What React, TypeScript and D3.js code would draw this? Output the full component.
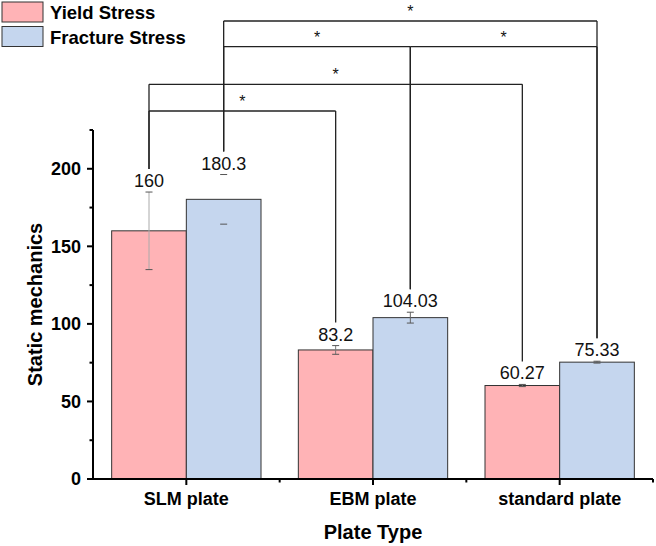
import React from "react";
import * as d3 from "d3";

const categories = ["SLM plate", "EBM plate", "standard plate"];
const seriesNames = ["Yield Stress", "Fracture Stress"];
const yieldValues = [160, 83.2, 60.27];
const fractureValues = [180.3, 104.03, 75.33];
const yieldErrors = [25, 2.8, 0.7];
const fractureErrors = [16, 3.5, 0.6];
const valueLabels = [["160", "83.2", "60.27"], ["180.3", "104.03", "75.33"]];
const yTicks = [0, 50, 100, 150, 200];
const yMinorTicks = [25, 75, 125, 175, 225];
// significance brackets: [catA, seriesA, catB, seriesB, level]
const brackets: [number, number, number, number, number][] = [
  [0, 0, 1, 0, 0],
  [0, 0, 2, 0, 1],
  [0, 1, 1, 1, 2],
  [1, 1, 2, 1, 2],
  [0, 1, 2, 1, 3],
];
const bracketLabel = "*";

const W = 656;
const H = 546;
const left = 93;
const right = 653;
const top = 130;
const bottom = 479;
const levelY = [111, 84.3, 46.7, 21];
const colors = ["#FFB3B6", "#C5D6EE"];
const errLineColors = [["#aaa", "#777", "#777"], ["none", "#666", "#666"]];

export default function App() {
  const x = d3.scaleBand<string>().domain(categories).range([left, right]).paddingInner(0.2).paddingOuter(0.1);
  const xOuter = d3.scaleBand<string>().domain(categories).range([left, right]);
  const y = d3.scaleLinear().domain([0, 225]).range([bottom, top]);
  const sub = d3.scaleBand<number>().domain([0, 1]).range([0, x.bandwidth()]);
  const values = [yieldValues, fractureValues];
  const errors = [yieldErrors, fractureErrors];
  const cx = (c: number, s: number) => (x(categories[c]) as number) + (sub(s) as number) + sub.bandwidth() / 2;
  const errTop = (c: number, s: number) => y(values[s][c] + errors[s][c]);

  const font = "Arial, 'Liberation Sans', sans-serif";

  return (
    <svg width={W} height={H} style={{ position: "absolute", left: 0, top: 0 }} fontFamily={font}>
      <rect width={W} height={H} fill="#fff" />
      {/* bars */}
      {values.map((vals, s) =>
        vals.map((v, c) => (
          <rect
            key={`b${s}${c}`}
            x={(x(categories[c]) as number) + (sub(s) as number)}
            y={y(v)}
            width={sub.bandwidth()}
            height={y(0) - y(v)}
            fill={colors[s]}
            stroke="#333"
            strokeWidth={1}
          />
        ))
      )}
      {/* error bars */}
      {values.map((vals, s) =>
        vals.map((v, c) => {
          const px = cx(c, s);
          const y1 = y(v + errors[s][c]);
          const y2 = y(v - errors[s][c]);
          return (
            <g key={`e${s}${c}`} stroke="#555" strokeWidth={1}>
              <line x1={px} x2={px} y1={y1} y2={y2} stroke={errLineColors[s][c]} />
              <line x1={px - 3.5} x2={px + 3.5} y1={y1} y2={y1} />
              <line x1={px - 3.5} x2={px + 3.5} y1={y2} y2={y2} />
            </g>
          );
        })
      )}
      {/* value labels */}
      {values.map((vals, s) =>
        vals.map((v, c) => (
          <text key={`l${s}${c}`} x={cx(c, s)} y={errTop(c, s) - 5} textAnchor="middle" fontSize={18} fill="#111">
            {valueLabels[s][c]}
          </text>
        ))
      )}
      {/* brackets */}
      {brackets.map(([ca, sa, cb, sb, lv], i) => {
        const xa = cx(ca, sa);
        const xb = cx(cb, sb);
        const ly = levelY[lv];
        return (
          <g key={`k${i}`} stroke="#222" strokeWidth={1.3} fill="none">
            <line x1={xa} x2={xb} y1={ly} y2={ly} />
            <line x1={xa} x2={xa} y1={ly} y2={errTop(ca, sa) - 23} />
            <line x1={xb} x2={xb} y1={ly} y2={errTop(cb, sb) - 23} />
            <text x={(xa + xb) / 2} y={ly - 4} textAnchor="middle" fontSize={16} fill="#111" stroke="none">
              {bracketLabel}
            </text>
          </g>
        );
      })}
      {/* y axis */}
      <line x1={left} x2={left} y1={top} y2={bottom + 1} stroke="#000" strokeWidth={2} />
      {yTicks.map((t) => (
        <g key={`yt${t}`}>
          <line x1={left - 6} x2={left} y1={y(t)} y2={y(t)} stroke="#000" strokeWidth={2} />
          <text x={left - 12} y={y(t)} dy="0.36em" textAnchor="end" fontSize={18} fontWeight="bold" fill="#000">
            {t}
          </text>
        </g>
      ))}
      {yMinorTicks.map((t) => (
        <line key={`ym${t}`} x1={left - 3.5} x2={left} y1={y(t)} y2={y(t)} stroke="#000" strokeWidth={2} />
      ))}
      <text
        transform={`translate(${35},${(top + bottom) / 2}) rotate(-90)`}
        textAnchor="middle"
        dy="0.36em"
        fontSize={20}
        fontWeight="bold"
        fill="#000"
      >
        Static mechanics
      </text>
      {/* x axis */}
      <line x1={left - 1} x2={right} y1={bottom} y2={bottom} stroke="#000" strokeWidth={2} />
      {categories.map((c) => (
        <g key={`xt${c}`}>
          <line
            x1={(x(c) as number) + x.bandwidth() / 2}
            x2={(x(c) as number) + x.bandwidth() / 2}
            y1={bottom}
            y2={bottom + 6}
            stroke="#000"
            strokeWidth={2}
          />
          <line
            x1={(xOuter(c) as number) + xOuter.bandwidth()}
            x2={(xOuter(c) as number) + xOuter.bandwidth()}
            y1={bottom}
            y2={bottom + 3.5}
            stroke="#000"
            strokeWidth={2}
          />
          <text
            x={(x(c) as number) + x.bandwidth() / 2}
            y={505}
            textAnchor="middle"
            fontSize={18}
            fontWeight="bold"
            fill="#000"
          >
            {c}
          </text>
        </g>
      ))}
      <text x={(left + right) / 2} y={539} textAnchor="middle" fontSize={20} fontWeight="bold" fill="#000">
        Plate Type
      </text>
      {/* legend */}
      {seriesNames.map((n, i) => (
        <g key={`lg${i}`}>
          <rect x={2} y={2 + i * 24.5} width={41} height={20} fill={colors[i]} stroke="#333" strokeWidth={1} />
          <text x={50} y={19 + i * 24.5} fontSize={18.5} fontWeight="bold" fill="#000">
            {n}
          </text>
        </g>
      ))}
    </svg>
  );
}
